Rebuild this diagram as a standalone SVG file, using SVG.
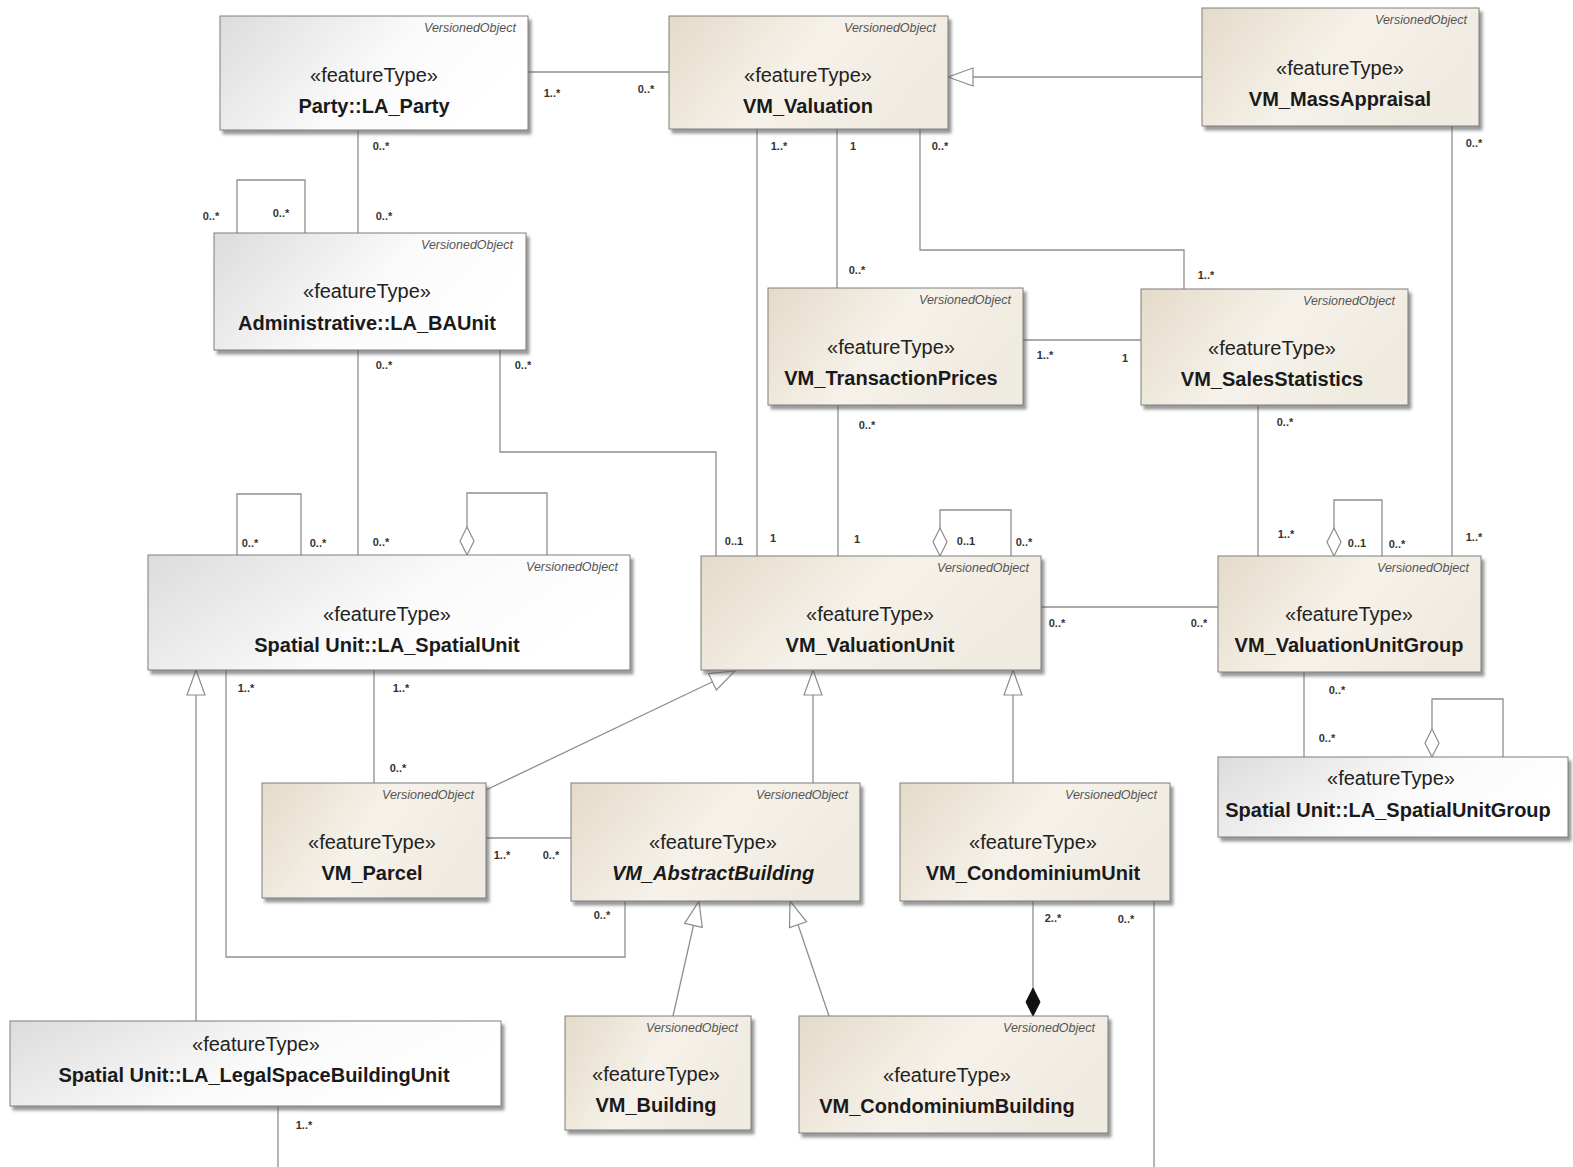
<svg xmlns="http://www.w3.org/2000/svg" width="1573" height="1167" viewBox="0 0 1573 1167">
  <defs>
    <linearGradient id="tan" x1="0" y1="0" x2="1" y2="0.35">
      <stop offset="0" stop-color="#e4dac8"/>
      <stop offset="0.55" stop-color="#f6f2ea"/>
      <stop offset="1" stop-color="#f0ebe1"/>
    </linearGradient>
    <linearGradient id="grey" x1="0" y1="0" x2="1" y2="0.35">
      <stop offset="0" stop-color="#dcdcdc"/>
      <stop offset="0.6" stop-color="#fafafa"/>
      <stop offset="1" stop-color="#ffffff"/>
    </linearGradient>
    <filter id="shadow" x="-5%" y="-5%" width="115%" height="120%">
      <feDropShadow dx="3" dy="4" stdDeviation="1.5" flood-color="#555555" flood-opacity="0.6"/>
    </filter>
    <!-- hollow triangle for generalisation -->
    <marker id="gen" markerUnits="userSpaceOnUse" markerWidth="28" markerHeight="22" refX="25" refY="9" orient="auto" overflow="visible">
      <path d="M0,0 L25,9 L0,18 Z" fill="#ffffff" stroke="#8c8c8c" stroke-width="1.2"/>
    </marker>
    <!-- hollow diamond for aggregation -->
    <marker id="agg" markerUnits="userSpaceOnUse" markerWidth="30" markerHeight="16" refX="0" refY="7" orient="auto" overflow="visible">
      <path d="M0,7 L14,0 L28,7 L14,14 Z" fill="#ffffff" stroke="#8c8c8c" stroke-width="1.2"/>
    </marker>
    <!-- filled diamond for composition -->
    <marker id="comp" markerUnits="userSpaceOnUse" markerWidth="30" markerHeight="16" refX="0" refY="7" orient="auto" overflow="visible">
      <path d="M0,7 L14,0 L28,7 L14,14 Z" fill="#111111" stroke="#111111" stroke-width="1"/>
    </marker>
  </defs>
  <style>
    .box { stroke: #7f7f7f; stroke-width: 1; filter: url(#shadow); }
    .vm { fill: url(#tan); }
    .la { fill: url(#grey); }
    .vo { font-family: "Liberation Sans", Arial, sans-serif; font-size: 12.5px; font-style: italic; fill: #555555; text-anchor: end; }
    .st { font-family: "Liberation Sans", Arial, sans-serif; font-size: 20px; fill: #222222; text-anchor: middle; }
    .nm { font-family: "Liberation Sans", Arial, sans-serif; font-size: 20px; font-weight: bold; fill: #1a1a1a; text-anchor: middle; }
    .it { font-style: italic; }
    .ln { fill: none; stroke: #8f8f8f; stroke-width: 1.3; }
    .m { font-family: "Liberation Sans", Arial, sans-serif; font-size: 11px; font-weight: bold; fill: #333333; text-anchor: middle; }
  </style>
  <rect width="1573" height="1167" fill="#ffffff"/>

  <!-- connectors -->
  <g id="connectors">
    <path class="ln" d="M528,72 H669"/>
    <path class="ln" d="M1202,77 H948" marker-end="url(#gen)"/>
    <path class="ln" d="M358,130 V233"/>
    <path class="ln" d="M237,233 V180 H305 V233"/>
    <path class="ln" d="M757,129 V556"/>
    <path class="ln" d="M837,129 V288"/>
    <path class="ln" d="M920,129 V250 H1184 V289"/>
    <path class="ln" d="M1023,340 H1141"/>
    <path class="ln" d="M1452,126 V556"/>
    <path class="ln" d="M838,405 V556"/>
    <path class="ln" d="M1258,405 V556"/>
    <path class="ln" d="M358,350 V555"/>
    <path class="ln" d="M500,350 V452 H716 V556"/>
    <path class="ln" d="M237,555 V494 H301 V555"/>
    <path class="ln" d="M467,555 V493 H547 V555" marker-start="url(#agg)"/>
    <path class="ln" d="M940,556 V510 H1011 V556" marker-start="url(#agg)"/>
    <path class="ln" d="M1041,607 H1218"/>
    <path class="ln" d="M1334,556 V500 H1382 V556" marker-start="url(#agg)"/>
    <path class="ln" d="M1304,672 V757"/>
    <path class="ln" d="M1432,757 V699 H1503 V757" marker-start="url(#agg)"/>
    <path class="ln" d="M486,790 L735,671" marker-end="url(#gen)"/>
    <path class="ln" d="M813,783 V670" marker-end="url(#gen)"/>
    <path class="ln" d="M1013,783 V670" marker-end="url(#gen)"/>
    <path class="ln" d="M374,670 V783"/>
    <path class="ln" d="M226,670 V957 H625 V901"/>
    <path class="ln" d="M486,838 H571"/>
    <path class="ln" d="M196,1021 V670" marker-end="url(#gen)"/>
    <path class="ln" d="M673,1016 L699,901" marker-end="url(#gen)"/>
    <path class="ln" d="M829,1016 L790,901" marker-end="url(#gen)"/>
    <path class="ln" d="M1033,1016 V901" marker-start="url(#comp)"/>
    <path class="ln" d="M1154,901 V1167"/>
    <path class="ln" d="M278,1106 V1167"/>

    <!-- multiplicities -->
    <text class="m" x="552" y="97">1..*</text>
    <text class="m" x="646" y="93">0..*</text>
    <text class="m" x="381" y="150">0..*</text>
    <text class="m" x="384" y="220">0..*</text>
    <text class="m" x="211" y="220">0..*</text>
    <text class="m" x="281" y="217">0..*</text>
    <text class="m" x="779" y="150">1..*</text>
    <text class="m" x="773" y="542">1</text>
    <text class="m" x="853" y="150">1</text>
    <text class="m" x="857" y="274">0..*</text>
    <text class="m" x="940" y="150">0..*</text>
    <text class="m" x="1206" y="279">1..*</text>
    <text class="m" x="1045" y="359">1..*</text>
    <text class="m" x="1125" y="362">1</text>
    <text class="m" x="1474" y="147">0..*</text>
    <text class="m" x="1474" y="541">1..*</text>
    <text class="m" x="867" y="429">0..*</text>
    <text class="m" x="857" y="543">1</text>
    <text class="m" x="1285" y="426">0..*</text>
    <text class="m" x="1286" y="538">1..*</text>
    <text class="m" x="384" y="369">0..*</text>
    <text class="m" x="381" y="546">0..*</text>
    <text class="m" x="523" y="369">0..*</text>
    <text class="m" x="734" y="545">0..1</text>
    <text class="m" x="250" y="547">0..*</text>
    <text class="m" x="318" y="547">0..*</text>
    <text class="m" x="966" y="545">0..1</text>
    <text class="m" x="1024" y="546">0..*</text>
    <text class="m" x="1057" y="627">0..*</text>
    <text class="m" x="1199" y="627">0..*</text>
    <text class="m" x="1357" y="547">0..1</text>
    <text class="m" x="1397" y="548">0..*</text>
    <text class="m" x="1337" y="694">0..*</text>
    <text class="m" x="1327" y="742">0..*</text>
    <text class="m" x="401" y="692">1..*</text>
    <text class="m" x="398" y="772">0..*</text>
    <text class="m" x="246" y="692">1..*</text>
    <text class="m" x="602" y="919">0..*</text>
    <text class="m" x="502" y="859">1..*</text>
    <text class="m" x="551" y="859">0..*</text>
    <text class="m" x="1053" y="922">2..*</text>
    <text class="m" x="1126" y="923">0..*</text>
    <text class="m" x="304" y="1129">1..*</text>
  </g>

  <!-- classes -->
  <g id="LA_Party">
    <rect class="box la" x="220" y="16" width="308" height="114"/>
    <text class="vo" x="516" y="32">VersionedObject</text>
    <text class="st" x="374" y="82">«featureType»</text>
    <text class="nm" x="374" y="113">Party::LA_Party</text>
  </g>
  <g id="VM_Valuation">
    <rect class="box vm" x="669" y="16" width="279" height="113"/>
    <text class="vo" x="936" y="32">VersionedObject</text>
    <text class="st" x="808" y="82">«featureType»</text>
    <text class="nm" x="808" y="113">VM_Valuation</text>
  </g>
  <g id="VM_MassAppraisal">
    <rect class="box vm" x="1202" y="8" width="277" height="118"/>
    <text class="vo" x="1467" y="24">VersionedObject</text>
    <text class="st" x="1340" y="75">«featureType»</text>
    <text class="nm" x="1340" y="106">VM_MassAppraisal</text>
  </g>
  <g id="LA_BAUnit">
    <rect class="box la" x="214" y="233" width="312" height="117"/>
    <text class="vo" x="513" y="249">VersionedObject</text>
    <text class="st" x="367" y="298">«featureType»</text>
    <text class="nm" x="367" y="330">Administrative::LA_BAUnit</text>
  </g>
  <g id="VM_TransactionPrices">
    <rect class="box vm" x="768" y="288" width="255" height="117"/>
    <text class="vo" x="1011" y="304">VersionedObject</text>
    <text class="st" x="891" y="354">«featureType»</text>
    <text class="nm" x="891" y="385">VM_TransactionPrices</text>
  </g>
  <g id="VM_SalesStatistics">
    <rect class="box vm" x="1141" y="289" width="267" height="116"/>
    <text class="vo" x="1395" y="305">VersionedObject</text>
    <text class="st" x="1272" y="355">«featureType»</text>
    <text class="nm" x="1272" y="386">VM_SalesStatistics</text>
  </g>
  <g id="LA_SpatialUnit">
    <rect class="box la" x="148" y="555" width="482" height="115"/>
    <text class="vo" x="618" y="571">VersionedObject</text>
    <text class="st" x="387" y="621">«featureType»</text>
    <text class="nm" x="387" y="652">Spatial Unit::LA_SpatialUnit</text>
  </g>
  <g id="VM_ValuationUnit">
    <rect class="box vm" x="701" y="556" width="340" height="114"/>
    <text class="vo" x="1029" y="572">VersionedObject</text>
    <text class="st" x="870" y="621">«featureType»</text>
    <text class="nm" x="870" y="652">VM_ValuationUnit</text>
  </g>
  <g id="VM_ValuationUnitGroup">
    <rect class="box vm" x="1218" y="556" width="263" height="116"/>
    <text class="vo" x="1469" y="572">VersionedObject</text>
    <text class="st" x="1349" y="621">«featureType»</text>
    <text class="nm" x="1349" y="652">VM_ValuationUnitGroup</text>
  </g>
  <g id="LA_SpatialUnitGroup">
    <rect class="box la" x="1218" y="757" width="350" height="80"/>
    <text class="st" x="1391" y="785">«featureType»</text>
    <text class="nm" x="1388" y="817">Spatial Unit::LA_SpatialUnitGroup</text>
  </g>
  <g id="VM_Parcel">
    <rect class="box vm" x="262" y="783" width="224" height="115"/>
    <text class="vo" x="474" y="799">VersionedObject</text>
    <text class="st" x="372" y="849">«featureType»</text>
    <text class="nm" x="372" y="880">VM_Parcel</text>
  </g>
  <g id="VM_AbstractBuilding">
    <rect class="box vm" x="571" y="783" width="289" height="118"/>
    <text class="vo" x="848" y="799">VersionedObject</text>
    <text class="st" x="713" y="849">«featureType»</text>
    <text class="nm it" x="713" y="880">VM_AbstractBuilding</text>
  </g>
  <g id="VM_CondominiumUnit">
    <rect class="box vm" x="900" y="783" width="270" height="118"/>
    <text class="vo" x="1157" y="799">VersionedObject</text>
    <text class="st" x="1033" y="849">«featureType»</text>
    <text class="nm" x="1033" y="880">VM_CondominiumUnit</text>
  </g>
  <g id="LA_LegalSpaceBuildingUnit">
    <rect class="box la" x="10" y="1021" width="491" height="85"/>
    <text class="st" x="256" y="1051">«featureType»</text>
    <text class="nm" x="254" y="1082">Spatial Unit::LA_LegalSpaceBuildingUnit</text>
  </g>
  <g id="VM_Building">
    <rect class="box vm" x="565" y="1016" width="186" height="114"/>
    <text class="vo" x="738" y="1032">VersionedObject</text>
    <text class="st" x="656" y="1081">«featureType»</text>
    <text class="nm" x="656" y="1112">VM_Building</text>
  </g>
  <g id="VM_CondominiumBuilding">
    <rect class="box vm" x="799" y="1016" width="309" height="117"/>
    <text class="vo" x="1095" y="1032">VersionedObject</text>
    <text class="st" x="947" y="1082">«featureType»</text>
    <text class="nm" x="947" y="1113">VM_CondominiumBuilding</text>
  </g>
</svg>
